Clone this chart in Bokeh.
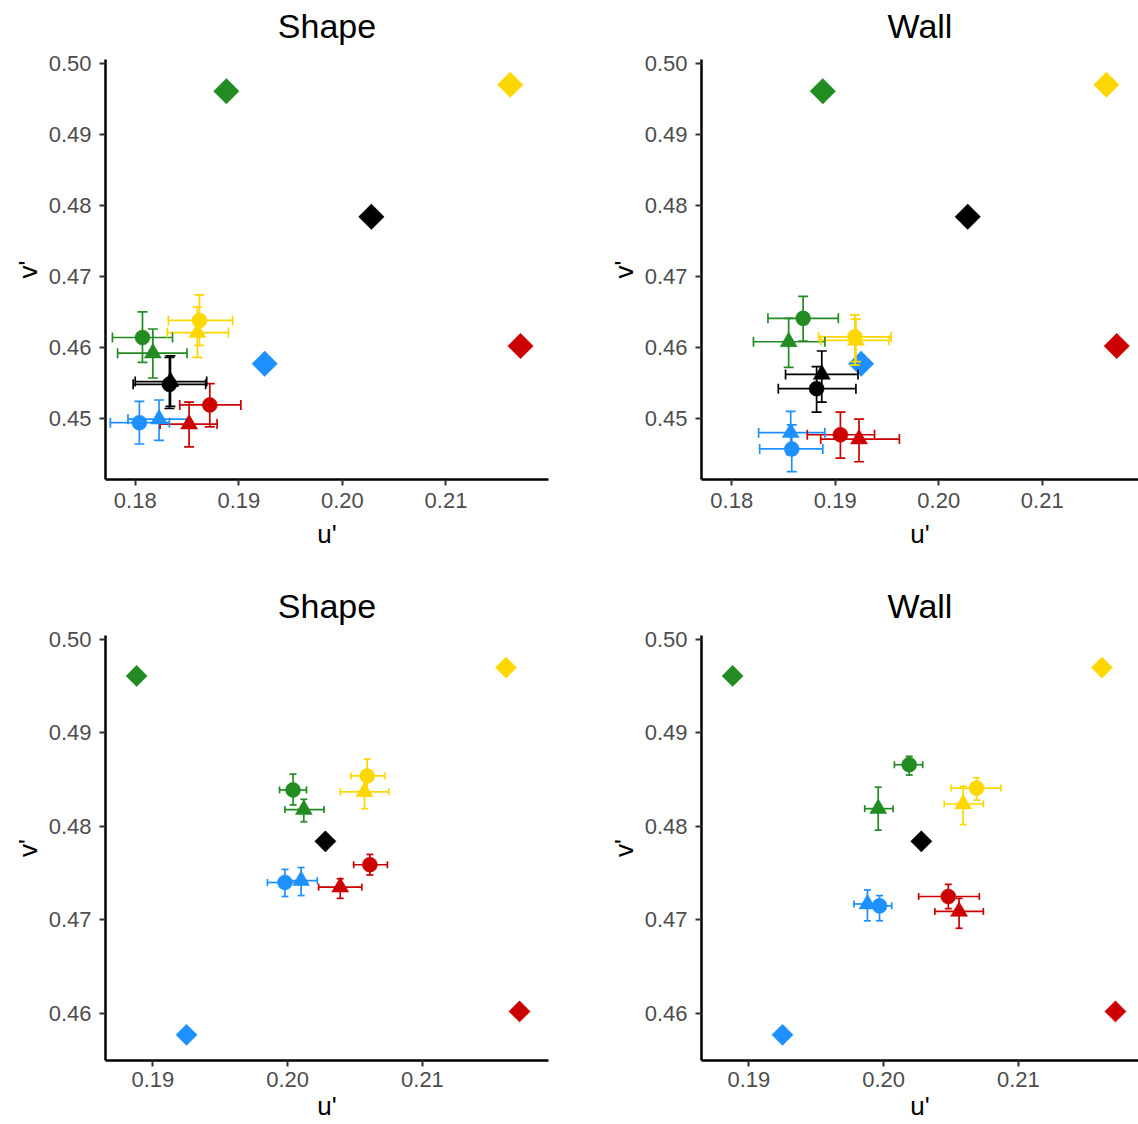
import math
from bokeh.plotting import figure
from bokeh.layouts import column, row
from bokeh.models import (ColumnDataSource, FixedTicker, PrintfTickFormatter, Range1d,
                          LinearAxis)
from bokeh.embed import file_html
from bokeh.resources import INLINE

# ---------------- data ----------------
# Target (reference) colours, the same in every panel (diamonds)
ref_group = ["green", "gold", "black", "red", "blue"]
ref_u = [0.1888, 0.2162, 0.2028, 0.2172, 0.1925]
ref_v = [0.4961, 0.4970, 0.4784, 0.4602, 0.4577]

# Top row: 5 colours x (circle, triangle)
top_group = ["green", "green", "gold", "gold", "black", "black", "red", "red", "blue", "blue"]
top_shape = ["circle", "triangle"] * 5

# Panel 1: Shape (top)
s1_u   = [0.1807, 0.1817, 0.1862, 0.1860, 0.1833, 0.1834, 0.1872, 0.1852, 0.1804, 0.1823]
s1_v   = [0.4614, 0.4592, 0.4638, 0.4621, 0.4548, 0.4552, 0.4519, 0.4492, 0.4494, 0.4499]
s1_ulo = [0.1778, 0.1783, 0.1832, 0.1831, 0.1798, 0.1800, 0.1843, 0.1824, 0.1776, 0.1793]
s1_uhi = [0.1836, 0.1850, 0.1894, 0.1890, 0.1868, 0.1869, 0.1902, 0.1879, 0.1833, 0.1852]
s1_vlo = [0.4579, 0.4557, 0.4603, 0.4586, 0.4514, 0.4517, 0.4488, 0.4460, 0.4464, 0.4469]
s1_vhi = [0.4650, 0.4626, 0.4674, 0.4657, 0.4586, 0.4588, 0.4549, 0.4523, 0.4524, 0.4526]

# Panel 2: Wall (top)
w1_u   = [0.1869, 0.1855, 0.1919, 0.1920, 0.1882, 0.1887, 0.1905, 0.1923, 0.1858, 0.1857]
w1_v   = [0.4641, 0.4608, 0.4615, 0.4610, 0.4542, 0.4562, 0.4477, 0.4471, 0.4457, 0.4480]
w1_ulo = [0.1835, 0.1821, 0.1884, 0.1886, 0.1845, 0.1852, 0.1873, 0.1886, 0.1827, 0.1826]
w1_uhi = [0.1903, 0.1890, 0.1954, 0.1952, 0.1920, 0.1922, 0.1938, 0.1962, 0.1888, 0.1890]
w1_vlo = [0.4609, 0.4572, 0.4575, 0.4580, 0.4509, 0.4523, 0.4444, 0.4439, 0.4425, 0.4449]
w1_vhi = [0.4672, 0.4641, 0.4646, 0.4640, 0.4573, 0.4595, 0.4509, 0.4499, 0.4491, 0.4510]

# Bottom row: 4 colours x (circle, triangle)
bot_group = ["green", "green", "gold", "gold", "red", "red", "blue", "blue"]
bot_shape = ["circle", "triangle"] * 4

# Panel 3: Shape (bottom)
s2_u   = [0.2004, 0.2012, 0.2059, 0.2057, 0.2061, 0.2039, 0.1998, 0.2010]
s2_v   = [0.4839, 0.4818, 0.4854, 0.4837, 0.4759, 0.4735, 0.4740, 0.4742]
s2_ulo = [0.1994, 0.1998, 0.2047, 0.2039, 0.2049, 0.2023, 0.1985, 0.1998]
s2_uhi = [0.2014, 0.2027, 0.2072, 0.2075, 0.2074, 0.2055, 0.2008, 0.2022]
s2_vlo = [0.4823, 0.4805, 0.4836, 0.4819, 0.4748, 0.4723, 0.4725, 0.4726]
s2_vhi = [0.4856, 0.4829, 0.4872, 0.4855, 0.4770, 0.4744, 0.4754, 0.4756]

# Panel 4: Wall (bottom)
w2_u   = [0.2019, 0.1996, 0.2069, 0.2059, 0.2048, 0.2056, 0.1997, 0.1988]
w2_v   = [0.4866, 0.4819, 0.4841, 0.4824, 0.4725, 0.4709, 0.4715, 0.4717]
w2_ulo = [0.2008, 0.1986, 0.2050, 0.2045, 0.2026, 0.2038, 0.1987, 0.1978]
w2_uhi = [0.2029, 0.2007, 0.2087, 0.2074, 0.2071, 0.2074, 0.2006, 0.1997]
w2_vlo = [0.4855, 0.4796, 0.4828, 0.4802, 0.4712, 0.4691, 0.4699, 0.4699]
w2_vhi = [0.4875, 0.4842, 0.4852, 0.4843, 0.4738, 0.4723, 0.4726, 0.4732]

y_ticks = [0.45, 0.46, 0.47, 0.48, 0.49, 0.50]
x_ticks = [0.18, 0.19, 0.20, 0.21]

# ---------------- style ----------------
PALETTE = {"green": "#228B22", "gold": "#FFD700", "black": "#000000",
           "red": "#CD0000", "blue": "#1E90FF"}
MSIZE = {"circle": 15, "triangle": 17}
FONT = "Liberation Sans"


def panel(title, group, shape, u, v, ulo, uhi, vlo, vhi, xr, yr,
          w, h, bl, br, bt, bb, dsize, cap, tstand, xstand):
    p = figure(width=w, height=h, x_range=Range1d(*xr), y_range=Range1d(*yr),
               output_backend="svg", toolbar_location=None,
               min_border_left=bl, min_border_right=br,
               min_border_top=bt, min_border_bottom=bb)
    p.outline_line_color = None
    p.xgrid.visible = False
    p.ygrid.visible = False
    p.background_fill_color = "white"
    p.border_fill_color = "white"

    bottom = p.below[0]
    left = p.left[0]
    for ax, lab in ((bottom, "u'"), (left, "v'")):
        ax.axis_label = lab
        ax.axis_label_text_font = FONT
        ax.axis_label_text_font_size = "26px"
        ax.axis_label_text_font_style = "normal"
        ax.axis_label_text_color = "black"
        ax.major_label_text_font = FONT
        ax.major_label_text_font_size = "22px"
        ax.major_label_text_color = "#4D4D4D"
        ax.axis_line_width = 2.5
        ax.axis_line_color = "black"
        ax.major_tick_line_width = 2
        ax.major_tick_line_color = "#333333"
        ax.major_tick_out = 6
        ax.major_tick_in = 0
        ax.minor_tick_out = 0
        ax.minor_tick_in = 0
        ax.formatter = PrintfTickFormatter(format="%.2f")
    bottom.ticker = FixedTicker(ticks=x_ticks)
    left.ticker = FixedTicker(ticks=y_ticks)
    bottom.major_label_standoff = xstand[0]
    bottom.axis_label_standoff = xstand[1]
    left.major_label_standoff = 8
    left.axis_label_standoff = 3

    # panel title drawn as the label of a bare axis above the frame
    top = LinearAxis(ticker=FixedTicker(ticks=[]), axis_line_color=None,
                     major_tick_out=0, major_tick_in=0, minor_tick_out=0, minor_tick_in=0,
                     major_label_text_font_size="0px",
                     axis_label=title, axis_label_standoff=tstand,
                     axis_label_text_font=FONT, axis_label_text_font_size="34px",
                     axis_label_text_font_style="normal", axis_label_text_color="black")
    p.add_layout(top, "above")

    # reference diamonds
    rsrc = ColumnDataSource(dict(u=ref_u, v=ref_v, c=[PALETTE[g] for g in ref_group]))
    p.scatter("u", "v", source=rsrc, marker="square", angle=math.pi / 4,
              size=dsize, fill_color="c", line_color="c", line_width=0.5)

    src = ColumnDataSource(dict(
        u=u, v=v, ulo=ulo, uhi=uhi, vlo=vlo, vhi=vhi,
        c=[PALETTE[g] for g in group], m=shape, s=[MSIZE[s] for s in shape]))
    # vertical error bars
    p.segment(x0="u", y0="vlo", x1="u", y1="vhi", source=src, line_color="c", line_width=1.7)
    p.scatter("u", "vlo", source=src, marker="dash", size=cap, line_color="c", line_width=1.7)
    p.scatter("u", "vhi", source=src, marker="dash", size=cap, line_color="c", line_width=1.7)
    # horizontal error bars
    p.segment(x0="ulo", y0="v", x1="uhi", y1="v", source=src, line_color="c", line_width=1.7)
    p.scatter("ulo", "v", source=src, marker="dash", angle=math.pi / 2, size=cap,
              line_color="c", line_width=1.7)
    p.scatter("uhi", "v", source=src, marker="dash", angle=math.pi / 2, size=cap,
              line_color="c", line_width=1.7)
    # points
    p.scatter("u", "v", source=src, marker="m", size="s", fill_color="c", line_color="c",
              line_width=0.5)
    return p


p1 = panel("Shape", top_group, top_shape, s1_u, s1_v, s1_ulo, s1_uhi, s1_vlo, s1_vhi,
           (0.17713, 0.21990), (0.4414, 0.50056), 569, 575, 105, 21, 59, 96, 18, 10, 15, (7, 8))
p2 = panel("Wall", top_group, top_shape, w1_u, w1_v, w1_ulo, w1_uhi, w1_vlo, w1_vhi,
           (0.17708, 0.21930), (0.4414, 0.50056), 569, 575, 132, 0, 59, 96, 18, 10, 15, (7, 8))
p3 = panel("Shape", bot_group, bot_shape, s2_u, s2_v, s2_ulo, s2_uhi, s2_vlo, s2_vhi,
           (0.18649, 0.21935), (0.45495, 0.50043), 569, 549, 105, 21, 60, 64, 15, 7, 11, (5, 1))
p4 = panel("Wall", bot_group, bot_shape, w2_u, w2_v, w2_ulo, w2_uhi, w2_vlo, w2_vhi,
           (0.18649, 0.21891), (0.45495, 0.50043), 569, 549, 132, 0, 60, 64, 15, 7, 11, (5, 1))

layout = column(row(p1, p2), row(p3, p4))
open("out.html", "w").write(file_html(layout, INLINE))
